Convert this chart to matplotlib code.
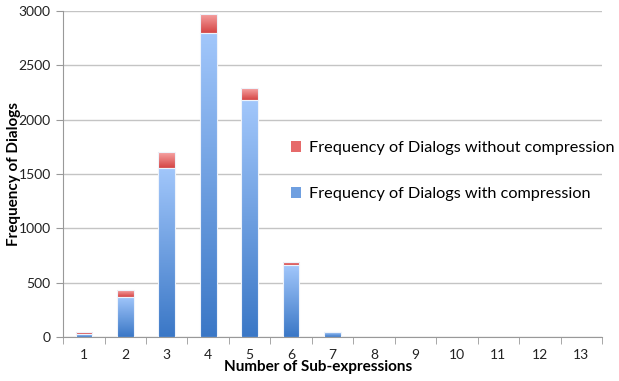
import matplotlib
matplotlib.use("Agg")
import matplotlib.pyplot as plt
import numpy as np
from matplotlib.colors import LinearSegmentedColormap
from matplotlib.patches import Patch

# data
sub_expressions = ["1", "2", "3", "4", "5", "6", "7", "8", "9", "10", "11", "12", "13"]
with_compression = [25, 370, 1560, 2800, 2180, 660, 45, 0, 0, 0, 0, 0, 0]
without_compression = [45, 430, 1700, 2975, 2290, 690, 50, 0, 0, 0, 0, 0, 0]

plt.rcParams["font.family"] = ["Lato", "DejaVu Sans"]

blue_cmap = LinearSegmentedColormap.from_list("blue", ["#3a77c6", "#a2c7fb"])
red_cmap = LinearSegmentedColormap.from_list("red", ["#d44444", "#f7a4a4"])
gradient = np.linspace(0, 1, 256).reshape(-1, 1)


def gradient_bars(ax, x, heights, bottoms, cmap, width=0.4):
    bars = ax.bar(x, heights, width=width, bottom=bottoms, color="none",
                  edgecolor="#eef3fb", linewidth=0.8, zorder=3)
    for bar, h in zip(bars, heights):
        if h <= 0:
            continue
        x0, y0 = bar.get_x(), bar.get_y()
        im = ax.imshow(gradient, cmap=cmap, origin="lower", aspect="auto",
                       extent=(x0, x0 + bar.get_width(), y0, y0 + h),
                       zorder=2.5, interpolation="bicubic")
        im.set_clip_path(bar)
    return bars


fig = plt.figure(figsize=(6.19, 3.81), dpi=100)
ax = fig.add_axes([0.102, 0.1155, 0.8705, 0.8555])

x = np.arange(1, len(sub_expressions) + 1)
extra = [t - w for t, w in zip(without_compression, with_compression)]
gradient_bars(ax, x, with_compression, 0, blue_cmap)
gradient_bars(ax, x, extra, with_compression, red_cmap)

ax.set_xlim(0.5, len(sub_expressions) + 0.5)
ax.set_ylim(0, 3000)
ax.set_yticks(np.arange(0, 3001, 500))
ax.set_xticks(x)
ax.set_xticklabels(sub_expressions)
ax.set_xticks(np.arange(0.5, len(sub_expressions) + 1, 1), minor=True)
ax.tick_params(axis="x", which="major", length=0, labelsize=10, pad=9,
               colors="#222222")
ax.tick_params(axis="x", which="minor", length=5, color="#999999")
ax.tick_params(axis="y", length=5, color="#999999", labelsize=10,
               labelcolor="#222222", pad=4)
ax.grid(axis="y", color="#c4c4c4", linewidth=1)
ax.set_axisbelow(True)
for side in ("top", "right"):
    ax.spines[side].set_visible(False)
for side in ("left", "bottom"):
    ax.spines[side].set_color("#999999")

ax.set_ylabel("Frequency of Dialogs", fontsize=11, fontweight="bold",
              va="center")
ax.yaxis.set_label_coords(-0.092, 0.5)
ax.set_xlabel("Number of Sub-expressions", fontsize=11, fontweight="bold",
              va="center")
ax.xaxis.set_label_coords(0.473, -0.092)

handles = [Patch(facecolor="#e66a6a", edgecolor="none"),
           Patch(facecolor="#6f9fe0", edgecolor="none")]
labels = ["Frequency of Dialogs without compression",
          "Frequency of Dialogs with compression"]
fig.legend(handles, labels, loc="upper left", bbox_to_anchor=(0.446, 0.668),
           frameon=False, fontsize=11.7, handlelength=0.65, handleheight=0.65,
           handletextpad=0.5, labelspacing=1.95)

fig.savefig("out.png", dpi=100)
